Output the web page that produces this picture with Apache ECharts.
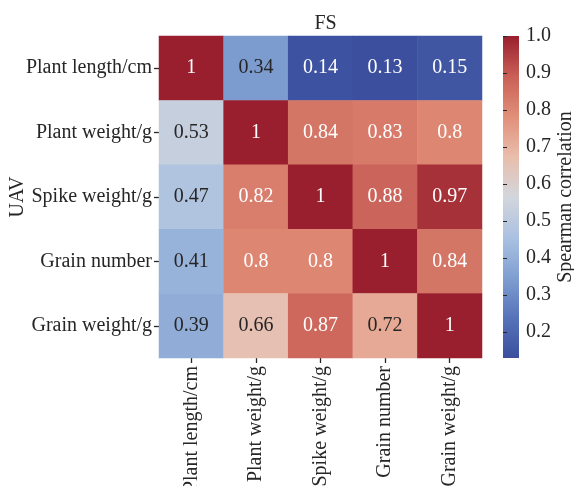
<!DOCTYPE html>
<html>
<head>
<meta charset="utf-8">
<script src="https://cdn.jsdelivr.net/npm/echarts@6/dist/echarts.min.js"></script>
<style>
  html, body { margin: 0; padding: 0; background: #fff; }
  #chart { width: 574px; height: 486px; }
</style>
</head>
<body>
<div id="chart"></div>
<script>
// Traits measured in the field (columns) and estimated from UAV imagery (rows)
const fsTraits = ['Plant length/cm', 'Plant weight/g', 'Spike weight/g', 'Grain number', 'Grain weight/g'];
const uavTraits = ['Plant length/cm', 'Plant weight/g', 'Spike weight/g', 'Grain number', 'Grain weight/g'];

// Spearman correlation, one row per UAV trait, columns follow fsTraits
const rowPlantLength = [1, 0.34, 0.14, 0.13, 0.15];
const rowPlantWeight = [0.53, 1, 0.84, 0.83, 0.8];
const rowSpikeWeight = [0.47, 0.82, 1, 0.88, 0.97];
const rowGrainNumber = [0.41, 0.8, 0.8, 1, 0.84];
const rowGrainWeight = [0.39, 0.66, 0.87, 0.72, 1];
const corrRows = [rowPlantLength, rowPlantWeight, rowSpikeWeight, rowGrainNumber, rowGrainWeight];

// Colour bar range and tick labels
const scaleMin = 0.13;
const scaleMax = 1.0;
const barTicks = [0.2, 0.3, 0.4, 0.5, 0.6, 0.7, 0.8, 0.9, 1.0];

// Diverging blue-grey-red ramp, evenly spaced from scaleMin to scaleMax
const ramp = ['#3b4f9e', '#5673b9', '#7f9fd1', '#abc1e1', '#d3d6dc',
              '#e9bdac', '#e18f79', '#c95f56', '#9a1f2e'];

const FONT = '"Liberation Serif", "DejaVu Serif", serif';
const INK = '#262626';

const GL = 159, GT = 36, GW = 323, GH = 322;   // heatmap plot area
const CB_L = 503, CB_W = 16;                     // colour bar

const cells = [];
corrRows.forEach((row, yi) => {
  row.forEach((v, xi) => {
    const darkText = v > 0.3 && v < 0.75;
    cells.push({
      value: [xi, yi, v],
      label: { color: darkText ? INK : '#ffffff' }
    });
  });
});

const chart = echarts.init(document.getElementById('chart'), null, { renderer: 'canvas' });

chart.setOption({
  animation: false,
  backgroundColor: '#ffffff',
  title: {
    text: 'FS',
    left: GL + GW / 2,
    top: 9,
    textAlign: 'center',
    textStyle: { fontFamily: FONT, fontSize: 20, fontWeight: 'normal', color: INK }
  },
  grid: [
    { left: GL, top: GT, width: GW, height: GH, containLabel: false, outerBoundsMode: 'none' },
    { left: CB_L, top: GT, width: CB_W, height: GH, containLabel: false, outerBoundsMode: 'none' }
  ],
  xAxis: [
    {
      type: 'category', gridIndex: 0, data: fsTraits, position: 'bottom',
      axisLine: { show: false },
      axisTick: { show: true, length: 5, alignWithLabel: true, lineStyle: { color: INK, width: 1.3 } },
      axisLabel: { rotate: 90, margin: 8, fontFamily: FONT, fontSize: 20, color: INK, interval: 0 },
      splitLine: { show: false }
    },
    { type: 'value', gridIndex: 1, show: false, min: 0, max: 1 }
  ],
  yAxis: [
    {
      type: 'category', gridIndex: 0, data: uavTraits, inverse: true,
      name: 'UAV', nameLocation: 'middle', nameGap: 131, nameMoveOverlap: false,
      nameTextStyle: { fontFamily: FONT, fontSize: 20, color: INK },
      axisLine: { show: false },
      axisTick: { show: true, length: 5, alignWithLabel: true, lineStyle: { color: INK, width: 1.3 } },
      axisLabel: { margin: 7, fontFamily: FONT, fontSize: 20, color: INK, interval: 0 },
      splitLine: { show: false }
    },
    {
      type: 'value', gridIndex: 1, position: 'right', min: scaleMin, max: scaleMax,
      axisLine: { show: false },
      axisTick: { show: true, length: 4, customValues: barTicks, lineStyle: { color: INK, width: 1 } },
      axisLabel: {
        customValues: barTicks, margin: 7, fontFamily: FONT, fontSize: 20, color: INK,
        formatter: v => Number(v).toFixed(1)
      },
      splitLine: { show: false }
    }
  ],
  visualMap: {
    show: false, type: 'continuous', min: scaleMin, max: scaleMax, dimension: 2,
    seriesIndex: 0, inRange: { color: ramp }
  },
  graphic: [
    {
      type: 'rect', silent: true, z: 0,
      shape: { x: CB_L, y: GT, width: CB_W, height: GH },
      style: {
        fill: new echarts.graphic.LinearGradient(0, 1, 0, 0,
          ramp.map((c, i) => ({ offset: i / (ramp.length - 1), color: c })))
      }
    },
    {
      type: 'text', silent: true,
      x: 566, y: 197, rotation: Math.PI / 2,
      style: {
        text: 'Spearman correlation', fontFamily: FONT, fontSize: 20, fill: INK,
        align: 'center', verticalAlign: 'middle'
      }
    }
  ],
  series: [{
    type: 'heatmap',
    xAxisIndex: 0, yAxisIndex: 0,
    data: cells,
    label: {
      show: true, fontFamily: FONT, fontSize: 20,
      formatter: p => String(p.value[2])
    },
    itemStyle: { borderWidth: 0 },
    emphasis: { disabled: true }
  }]
});
</script>
</body>
</html>
